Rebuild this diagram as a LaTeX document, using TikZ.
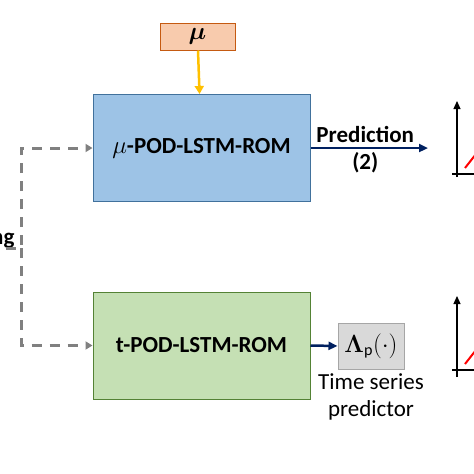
\documentclass[tikz,border=0pt]{standalone}
\usepackage{fontspec}
\setmainfont{Carlito}
\usepackage{amsmath}
\usetikzlibrary{arrows.meta}
\definecolor{paramfill}{HTML}{F8CBAD}
\definecolor{paramdraw}{HTML}{C55A11}
\definecolor{romblue}{HTML}{9DC3E6}
\definecolor{romblueline}{HTML}{41719C}
\definecolor{romgreen}{HTML}{C5E0B4}
\definecolor{romgreenline}{HTML}{548235}
\definecolor{predgray}{HTML}{D9D9D9}
\definecolor{predgrayline}{HTML}{A6A6A6}
\definecolor{arrowyellow}{HTML}{FFC000}
\definecolor{arrownavy}{HTML}{002060}
\definecolor{dashgray}{HTML}{808080}
\begin{document}
\begin{tikzpicture}[x=1pt, y=-1pt, font=\fontsize{23}{27}\selectfont]
    \tikzstyle{rom} = [draw, line width=1pt, minimum width=217pt, minimum height=107pt, inner sep=0pt, font=\fontsize{23}{27}\selectfont\bfseries]
    \tikzstyle{param} = [draw=paramdraw, fill=paramfill, line width=1pt, minimum width=75pt, minimum height=27pt, inner sep=0pt]
    \tikzstyle{feed} = [dashgray, line width=3pt, dash pattern=on 10pt off 8pt, -{Triangle[length=7pt, width=8pt]}]
    \tikzstyle{predarrow} = [arrownavy, line width=2.5pt, -{Triangle[length=9pt, width=8pt]}]
    \tikzstyle{axis} = [black, line width=1.2pt]
    \useasboundingbox (0,0) rectangle (474,474);
    % parameter input
    \node[param] (mu) at (197.5,36.5) {\fontsize{26}{28}\selectfont$\boldsymbol{\mu}$};
    % reduced order models
    \node[rom, fill=romblue, draw=romblueline] (murom) at (201.5,148) {$\mu$-POD-LSTM-ROM};
    \node[rom, fill=romgreen, draw=romgreenline] (trom) at (201.5,345.5) {t-POD-LSTM-ROM};
    \node[draw=predgrayline, fill=predgray, line width=1pt, minimum width=66pt, minimum height=46pt, inner sep=0pt] (lambda) at (371,346) {$\boldsymbol{\Lambda}_{\mathrm{p}}(\cdot)$};
    \node[align=center, anchor=north] (tsp) at (lambda.south) [yshift=-1pt] {Time series\\predictor};
    \draw[arrowyellow, line width=2.5pt, -{Triangle[length=8pt, width=9pt]}] (mu) -- (murom);
    % training feed
    \coordinate (src) at (-30,248);
    \coordinate (split) at (21,248);
    \node[anchor=base east, font=\fontsize{23}{27}\selectfont\bfseries] (train) at (18,244) {Training};
    \draw[feed] (src) -- (split) |- (murom.west);
    \draw[feed] (split) |- (trom.west);
    % predictions
    \coordinate (predend) at (428,148);
    \draw[predarrow] (murom.east) -- (predend)
        node[midway, above=1pt, xshift=-4pt, text=black, font=\fontsize{23}{27}\selectfont\bfseries] (predlbl) {Prediction}
        node[midway, below=0pt, xshift=-4pt, text=black, font=\fontsize{23}{27}\selectfont\bfseries] (predno) {(2)};
    \draw[predarrow] (trom.east) -- (lambda.west);
    % output plots
    \draw[axis, -{Triangle[length=8pt, width=7pt]}] (457,177) -- (457,101);
    \draw[axis] (452,174) -- (474,174);
    \draw[red, line width=2pt] (465,168) -- (476,154);
    \draw[axis, -{Triangle[length=8pt, width=7pt]}] (457,377) -- (457,296);
    \draw[axis] (452,370) -- (474,370);
    \draw[red, line width=2pt] (465,364) -- (476,350);
\end{tikzpicture}
\end{document}
